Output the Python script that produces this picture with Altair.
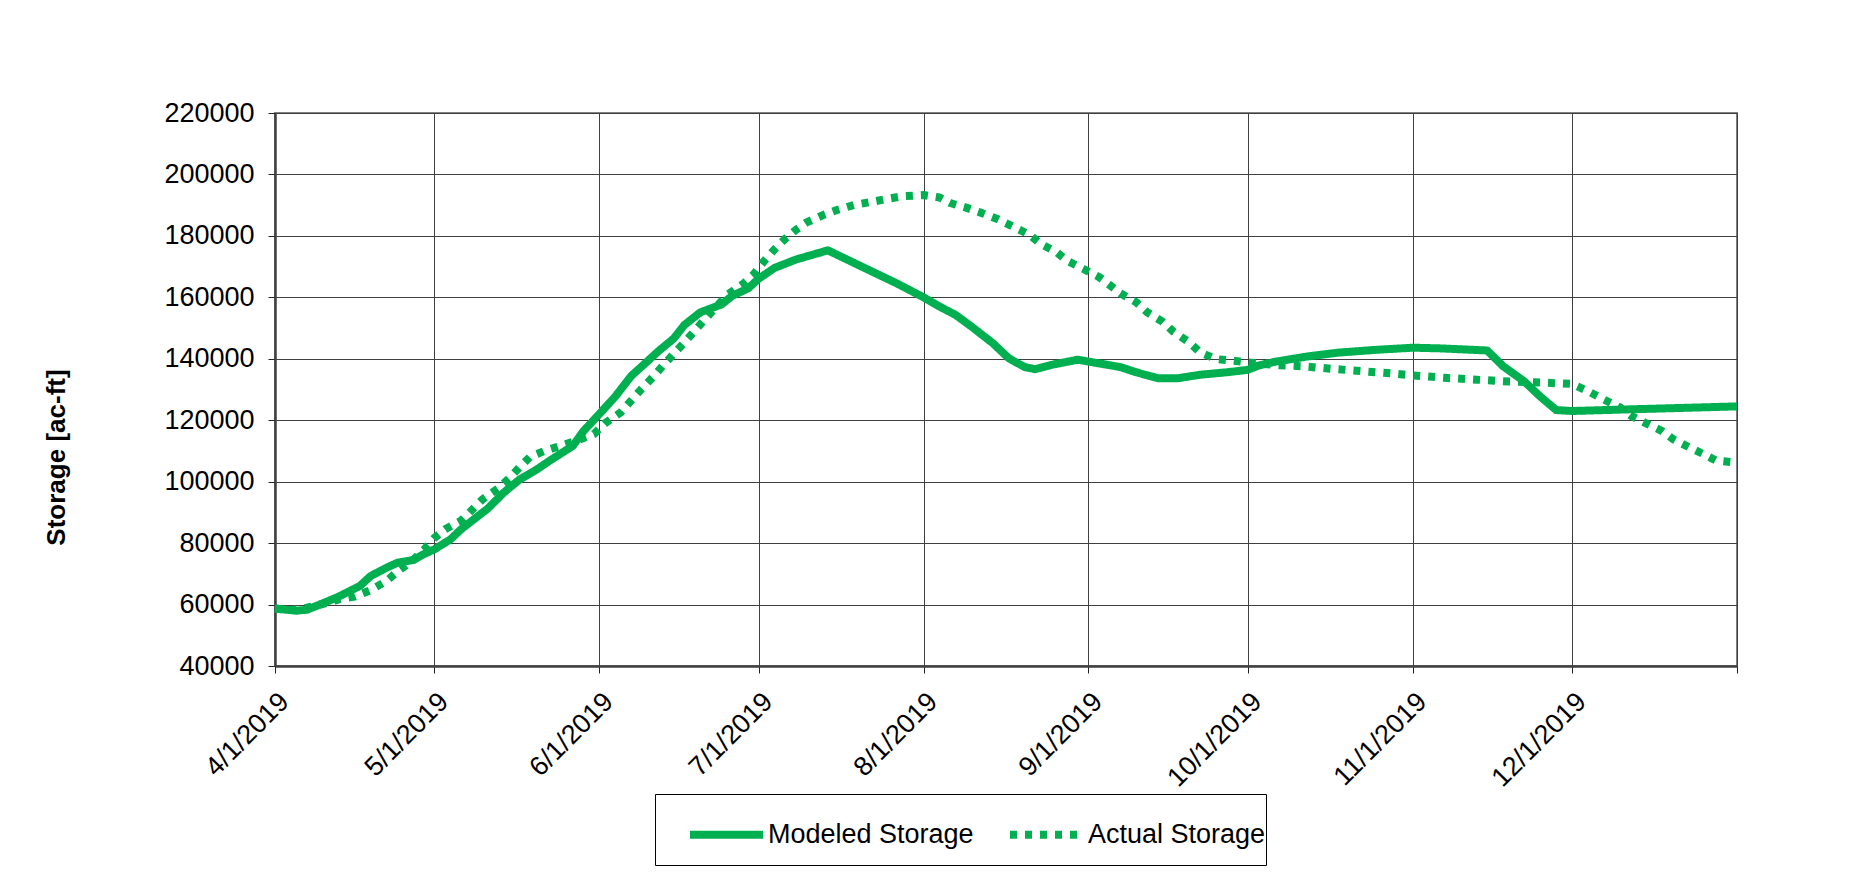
import altair as alt
import pandas as pd

GREEN = "#00B050"
FONT = "Liberation Sans"

modeled_dates = [
    "2019-04-01", "2019-04-05", "2019-04-07", "2019-04-10", "2019-04-13", "2019-04-17",
    "2019-04-19", "2019-04-22", "2019-04-24", "2019-04-27", "2019-04-29", "2019-05-01",
    "2019-05-04", "2019-05-06", "2019-05-08", "2019-05-11", "2019-05-14", "2019-05-17",
    "2019-05-20", "2019-05-23", "2019-05-27", "2019-05-29", "2019-06-01", "2019-06-04",
    "2019-06-07", "2019-06-10", "2019-06-12", "2019-06-15", "2019-06-17", "2019-06-20",
    "2019-06-24", "2019-06-26", "2019-06-29", "2019-07-01", "2019-07-04", "2019-07-08",
    "2019-07-14", "2019-07-20", "2019-07-27", "2019-08-01", "2019-08-04", "2019-08-07",
    "2019-08-10", "2019-08-12", "2019-08-14", "2019-08-17", "2019-08-20", "2019-08-22",
    "2019-08-25", "2019-08-30", "2019-09-01", "2019-09-07", "2019-09-10", "2019-09-14",
    "2019-09-18", "2019-09-22", "2019-09-27", "2019-10-01", "2019-10-03", "2019-10-06",
    "2019-10-12", "2019-10-18", "2019-10-25", "2019-11-01", "2019-11-06", "2019-11-15",
    "2019-11-18", "2019-11-22", "2019-11-25", "2019-11-28", "2019-12-01", "2019-12-11",
    "2020-01-01",
]
modeled_values = [
    58700, 58000, 58300, 60400, 62600, 66100,
    69300, 72000, 73600, 74500, 76400, 78000,
    81200, 84500, 87200, 91200, 96400, 100700,
    103700, 107200, 111600, 116400, 122000, 127700,
    134400, 139100, 142300, 146600, 151000, 155100,
    157700, 160500, 162900, 166100, 169600, 172300,
    175300, 170300, 164500, 160000, 157000, 154300,
    150500, 147800, 145100, 140200, 137300, 136600,
    138000, 139700, 139100, 137300, 135600, 133700,
    133700, 134800, 135600, 136400, 137800, 139000,
    140700, 142000, 142900, 143600, 143400, 142700,
    137600, 132600, 127700, 123300, 123000, 123500,
    124500,
]

actual_dates = [
    "2019-04-01", "2019-04-04", "2019-04-07", "2019-04-11", "2019-04-13", "2019-04-16",
    "2019-04-19", "2019-04-22", "2019-04-24", "2019-04-27", "2019-04-29", "2019-05-01",
    "2019-05-03", "2019-05-06", "2019-05-08", "2019-05-10", "2019-05-13", "2019-05-15",
    "2019-05-17", "2019-05-19", "2019-05-22", "2019-05-25", "2019-05-28", "2019-05-31",
    "2019-06-02", "2019-06-05", "2019-06-07", "2019-06-09", "2019-06-11", "2019-06-13",
    "2019-06-15", "2019-06-17", "2019-06-19", "2019-06-21", "2019-06-23", "2019-06-25",
    "2019-06-28", "2019-06-30", "2019-07-02", "2019-07-04", "2019-07-06", "2019-07-08",
    "2019-07-10", "2019-07-13", "2019-07-16", "2019-07-19", "2019-07-22", "2019-07-25",
    "2019-07-28", "2019-08-01", "2019-08-04", "2019-08-06", "2019-08-09", "2019-08-12",
    "2019-08-15", "2019-08-18", "2019-08-21", "2019-08-23", "2019-08-26", "2019-08-28",
    "2019-08-31", "2019-09-03", "2019-09-05", "2019-09-07", "2019-09-10", "2019-09-12",
    "2019-09-15", "2019-09-17", "2019-09-20", "2019-09-22", "2019-09-25", "2019-09-28",
    "2019-10-01", "2019-10-04", "2019-10-07", "2019-10-11", "2019-10-17", "2019-10-23",
    "2019-10-29", "2019-11-01", "2019-11-07", "2019-11-13", "2019-11-19", "2019-11-25",
    "2019-12-01", "2019-12-04", "2019-12-07", "2019-12-10", "2019-12-12", "2019-12-15",
    "2019-12-18", "2019-12-20", "2019-12-23", "2019-12-26", "2019-12-28", "2020-01-01",
]
actual_values = [
    58700, 58200, 59000, 60600, 61700, 62600,
    64700, 67700, 70700, 74500, 77800, 81700,
    84500, 87300, 90700, 94200, 97800, 101000,
    104700, 108100, 110200, 111800, 113500, 115500,
    118900, 122500, 126400, 130300, 133900, 137800,
    141600, 145300, 149200, 153100, 156900, 160700,
    164300, 167400, 171800, 175700, 179100, 182000,
    184400, 186700, 188600, 190100, 191000, 192000,
    192900, 193300, 192500, 190700, 189200, 187400,
    185400, 182900, 180300, 177400, 174700, 171900,
    169300, 166600, 164000, 161300, 158400, 155200,
    152000, 148800, 145300, 142100, 139900, 139400,
    138800, 138300, 137900, 137600, 136700, 135900,
    135100, 134600, 133800, 133200, 132600, 132300,
    131800, 129400, 126700, 124200, 121500, 118900,
    116400, 113800, 111200, 108700, 106900, 106200,
]

series_names = ["Modeled Storage", "Actual Storage"]
y_ticks = [40000, 60000, 80000, 100000, 120000, 140000, 160000, 180000, 200000, 220000]
x_tick_months = [(2019, 4), (2019, 5), (2019, 6), (2019, 7), (2019, 8), (2019, 9),
                 (2019, 10), (2019, 11), (2019, 12), (2020, 1)]

df = pd.concat([
    pd.DataFrame({"date": modeled_dates, "value": modeled_values, "series": series_names[0]}),
    pd.DataFrame({"date": actual_dates, "value": actual_values, "series": series_names[1]}),
])

x_tick_values = [alt.DateTime(year=y, month=m, date=1, utc=True) for y, m in x_tick_months]

chart = alt.Chart(df).mark_line(
    color=GREEN, strokeWidth=8, strokeCap="butt", strokeJoin="round"
).encode(
    x=alt.X(
        "date:T",
        scale=alt.Scale(type="utc", domain=[x_tick_values[0], x_tick_values[-1]]),
        axis=alt.Axis(
            title=None, values=x_tick_values,
            labelExpr="utcmonth(datum.value) == 0 && utcyear(datum.value) == 2020 ? '' : utcFormat(datum.value, '%-m/%-d/%Y')",
            labelAngle=315, labelFont=FONT, labelFontSize=27, labelColor="black",
            labelPadding=15, tickSize=7, tickColor="#222222", labelOverlap=False,
            domainColor="#404040", domainWidth=2.5, grid=True, gridColor="#404040", gridWidth=1,
        ),
    ),
    y=alt.Y(
        "value:Q",
        scale=alt.Scale(domain=[40000, 220000], nice=False, zero=False),
        axis=alt.Axis(
            title="Storage [ac-ft]", titleFont=FONT, titleFontSize=26, titleFontWeight="bold",
            titleColor="black", titleX=-219, titleY=344, titleAngle=270,
            titleAlign="center", titleBaseline="middle",
            values=y_ticks, format="d", labelFont=FONT, labelFontSize=27, labelColor="black",
            labelPadding=14, tickSize=7, tickColor="#222222",
            domainColor="#404040", domainWidth=2.5, grid=True, gridColor="#404040", gridWidth=1,
        ),
    ),
    strokeDash=alt.StrokeDash(
        "series:N",
        scale=alt.Scale(domain=series_names, range=[[1, 0], [7, 8]]),
        legend=alt.Legend(
            title="\u00a0", titleOrient="bottom", titleFontSize=2, titlePadding=12,
            orient="none", legendX=380, legendY=681, direction="horizontal",
            labelFont=FONT, labelFontSize=27, labelColor="black", labelOffset=1,
            labelLimit=500,
            symbolType="stroke", symbolSize=5329, symbolStrokeWidth=8,
            symbolStrokeColor=GREEN, symbolOffset=31,
            strokeColor="black", fillColor="white",
            padding=0, columnPadding=1,
        ),
    ),
).properties(
    width=1462,
    height=553,
    autosize=alt.AutoSizeParams(type="none"),
    padding={"left": 267, "top": 105, "right": 100, "bottom": 200},
).configure_view(
    stroke="#808080", strokeWidth=2
)

chart.save("out.html", embed_options={"renderer": "svg", "actions": False})
